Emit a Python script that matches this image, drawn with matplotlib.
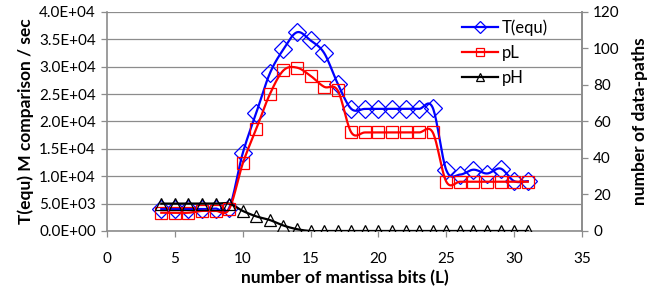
import numpy as np
import matplotlib.pyplot as plt
from matplotlib.lines import Line2D

plt.rcParams['font.family'] = ['Lato', 'DejaVu Sans']

# number of mantissa bits
bits = [4, 5, 6, 7, 8, 9, 10, 11, 12, 13, 14, 15, 16, 17, 18, 19, 20, 21, 22,
        23, 24, 25, 26, 27, 28, 29, 30, 31]
# T(equ) M comparison / sec (left axis)
t_equ = [4000, 4000, 4000, 4000, 4100, 4200, 14200, 21600, 28800, 33200, 36300,
         34800, 32500, 26900, 22300, 22300, 22300, 22300, 22300, 22300, 22500,
         11100, 10300, 11200, 10500, 11400, 9100, 9100]
# number of data-paths (right axis)
p_l = [10, 10, 10, 11, 11, 12, 37, 56, 75, 88, 89.5, 85, 79, 77, 54, 54, 54, 54,
       54, 54, 54, 27, 27, 27, 27, 27, 27, 27]
p_h = [15, 15, 15, 15, 15, 15, 11, 8, 6, 3, 1, 0, 0, 0, 0, 0, 0, 0, 0, 0, 0, 0,
       0, 0, 0, 0, 0, 0]


def smooth(x, y, n=20):
    # catmull-rom curve through the points, like excel's smoothed line
    x = np.asarray(x, float)
    y = np.asarray(y, float)
    px = np.concatenate([[2 * x[0] - x[1]], x, [2 * x[-1] - x[-2]]])
    py = np.concatenate([[2 * y[0] - y[1]], y, [2 * y[-1] - y[-2]]])
    xs, ys = [], []
    t = np.linspace(0, 1, n, endpoint=False)
    for i in range(1, len(px) - 2):
        for p, out in ((px, xs), (py, ys)):
            p0, p1, p2, p3 = p[i - 1], p[i], p[i + 1], p[i + 2]
            out.extend(0.5 * (2 * p1 + (-p0 + p2) * t
                              + (2 * p0 - 5 * p1 + 4 * p2 - p3) * t ** 2
                              + (-p0 + 3 * p1 - 3 * p2 + p3) * t ** 3))
    xs.append(x[-1])
    ys.append(y[-1])
    return xs, ys


fig, ax = plt.subplots(figsize=(6.54, 2.91), dpi=100)
fig.subplots_adjust(left=0.1636, right=0.890, top=0.9588, bottom=0.2062)
ax2 = ax.twinx()

gray = '#8c8c8c'

sx, sy = smooth(bits, t_equ)
ax.plot(sx, sy, color='#0000ff', lw=1.6, zorder=3)
ax.plot(bits, t_equ, ls='none', marker='D', ms=9, mfc='none', mec='#0000ff',
        mew=0.9, zorder=4)

sx, sy = smooth(bits, p_l)
ax2.plot(sx, sy, color='#ff0000', lw=1.6, zorder=3)
ax2.plot(bits, p_l, ls='none', marker='s', ms=8, mfc='none', mec='#ff0000',
         mew=0.9, zorder=4)

sx, sy = smooth(bits, p_h)
ax2.plot(sx, sy, color='black', lw=1.6, zorder=3)
ax2.plot(bits, p_h, ls='none', marker='^', ms=8.5, mfc='none', mec='black',
         mew=0.9, zorder=4)

ax.set_xlim(0, 35)
ax.set_ylim(0, 40000)
ax2.set_ylim(0, 120)
ax.set_xticks(range(0, 36, 5))
ax.set_yticks(np.arange(0, 40001, 5000))
ax2.set_yticks(range(0, 121, 20))
ax.yaxis.set_major_formatter(plt.FuncFormatter(
    lambda v, p: '%.1E' % v))
ax.grid(axis='y', color=gray, lw=0.9)
ax.set_axisbelow(True)

for a in (ax, ax2):
    a.tick_params(labelsize=11, color=gray, length=4, width=0.9,
                  labelcolor='black', pad=4)
    for s in a.spines.values():
        s.set_color(gray)
        s.set_linewidth(1.2)
    a.spines['top'].set_visible(False)
ax2.spines['left'].set_visible(False)
ax2.spines['bottom'].set_visible(False)
ax.tick_params(axis='x', pad=11)

ax.set_xlabel('number of mantissa bits (L)', fontsize=12.5, fontweight='bold',
              labelpad=3)
ax.set_ylabel('T(equ) M comparison / sec', fontsize=12.5, fontweight='bold',
              labelpad=4)
ax2.set_ylabel('number of data-paths', fontsize=12.5, fontweight='bold',
               labelpad=9)

handles = [
    Line2D([], [], color='#0000ff', lw=1.6, marker='D', ms=6, mfc='none',
           mec='#0000ff', mew=0.9),
    Line2D([], [], color='#ff0000', lw=1.6, marker='s', ms=6, mfc='none',
           mec='#ff0000', mew=0.9),
    Line2D([], [], color='black', lw=1.6, marker='^', ms=6, mfc='none',
           mec='black', mew=0.9),
]
leg = ax2.legend(handles, ['T(equ)', 'pL', 'pH'], loc='upper left',
                 bbox_to_anchor=(0.715, 1.035), frameon=False, fontsize=12,
                 handlelength=2.2, handletextpad=0.2, labelspacing=0.55)

fig.savefig('out.png', dpi=100)
